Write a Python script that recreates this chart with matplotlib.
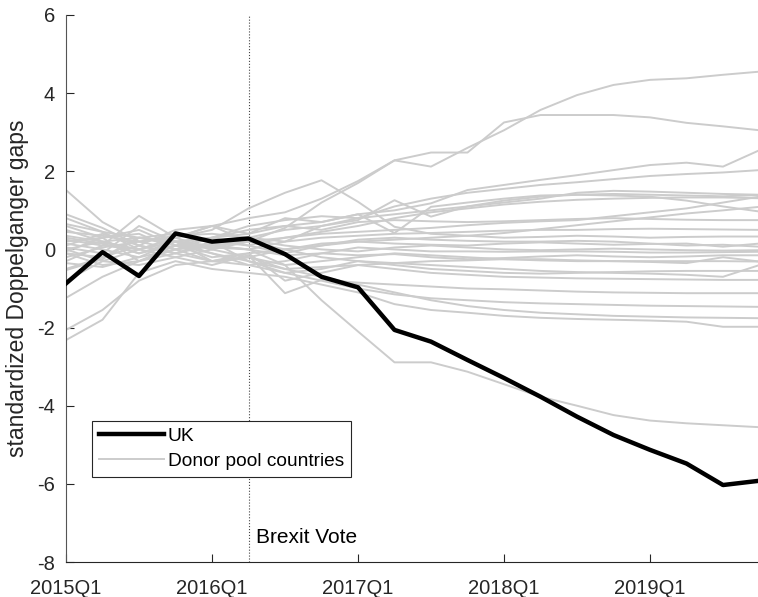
import matplotlib.pyplot as plt
import numpy as np

# quarters 2015Q1 .. 2019Q4
quarters = ['2015Q1', '2015Q2', '2015Q3', '2015Q4', '2016Q1', '2016Q2', '2016Q3', '2016Q4',
            '2017Q1', '2017Q2', '2017Q3', '2017Q4', '2018Q1', '2018Q2', '2018Q3', '2018Q4',
            '2019Q1', '2019Q2', '2019Q3', '2019Q4']
tick_labels = ['2015Q1', '2016Q1', '2017Q1', '2018Q1', '2019Q1']
vote_quarter = '2016Q2'

uk = [-0.87, -0.07, -0.68, 0.41, 0.20, 0.28, -0.12, -0.70, -0.97, -2.06,
      -2.36, -2.83, -3.29, -3.77, -4.28, -4.75, -5.13, -5.48, -6.03, -5.92]

# donor pool gaps
donors = [
    [0.30, 0.15, -0.10, 0.20, 0.10, 0.20, 0.55, 1.20, 1.70, 2.28, 2.12, 2.60, 3.05, 3.57, 3.95, 4.21, 4.34, 4.38, 4.47, 4.55],
    [0.90, 0.55, 0.10, 0.50, 0.60, 0.80, 0.95, 1.30, 1.75, 2.28, 2.48, 2.48, 3.25, 3.44, 3.44, 3.44, 3.38, 3.24, 3.15, 3.05],
    [0.20, 0.30, 0.40, 0.00, 0.30, 0.50, 0.60, 0.70, 0.90, 1.00, 1.18, 1.52, 1.65, 1.78, 1.90, 2.03, 2.16, 2.22, 2.12, 2.54],
    [0.45, 0.35, 0.20, 0.35, 0.40, 0.30, 0.50, 0.60, 0.80, 1.10, 1.30, 1.45, 1.55, 1.65, 1.72, 1.80, 1.88, 1.93, 1.97, 2.03],
    [1.52, 0.70, 0.20, 0.30, 0.50, 1.05, 1.45, 1.77, 1.22, 0.58, 0.40, 0.35, 0.30, 0.32, 0.35, 0.33, 0.30, 0.32, 0.33, 0.33],
    [-0.30, 0.10, 0.86, 0.30, 0.00, 0.30, 0.20, 0.60, 0.75, 1.26, 0.84, 1.10, 1.25, 1.35, 1.40, 1.42, 1.40, 1.38, 1.36, 1.39],
    [0.10, 0.40, 0.10, -0.10, 0.20, 0.10, 0.30, 0.45, 0.60, 0.80, 0.95, 1.05, 1.15, 1.22, 1.27, 1.30, 1.32, 1.33, 1.33, 1.31],
    [-0.10, -0.20, 0.30, 0.10, -0.20, -0.10, 0.00, 0.15, 0.20, 0.25, 0.30, 0.35, 0.42, 0.52, 0.62, 0.72, 0.82, 0.92, 1.00, 1.09],
    [0.60, 0.30, -0.30, 0.10, 0.30, 0.60, 0.75, 0.85, 0.80, 0.90, 1.00, 1.10, 1.20, 1.30, 1.45, 1.50, 1.48, 1.45, 1.42, 1.40],
    [0.00, 0.20, 0.00, 0.30, 0.60, 0.40, 0.80, 0.70, 0.90, 0.42, 1.09, 1.20, 1.30, 1.38, 1.40, 1.38, 1.35, 1.25, 1.10, 0.97],
    [-0.50, -0.20, 0.10, -0.10, 0.10, 0.00, 0.20, 0.30, 0.35, 0.40, 0.42, 0.45, 0.48, 0.50, 0.50, 0.52, 0.53, 0.52, 0.51, 0.50],
    [0.25, 0.10, 0.00, 0.20, 0.00, -0.20, 0.00, 0.10, 0.25, 0.30, 0.25, 0.22, 0.20, 0.20, 0.22, 0.20, 0.15, 0.10, 0.12, 0.07],
    [-0.20, 0.05, 0.20, 0.00, 0.15, 0.25, 0.10, 0.00, -0.05, 0.05, 0.10, 0.05, 0.00, -0.02, 0.00, 0.02, 0.00, -0.02, -0.03, -0.02],
    [0.35, 0.20, -0.10, 0.10, 0.05, 0.00, -0.15, -0.10, 0.05, 0.00, -0.05, -0.05, -0.06, -0.05, -0.05, -0.06, -0.08, -0.08, -0.07, -0.06],
    [-0.35, -0.45, -0.20, 0.00, -0.30, -0.20, -0.40, -0.30, -0.20, -0.10, -0.15, -0.20, -0.25, -0.28, -0.30, -0.30, -0.32, -0.35, -0.20, -0.31],
    [0.00, -0.30, -0.40, -0.20, 0.00, 0.20, 0.00, -0.20, -0.30, -0.35, -0.40, -0.45, -0.50, -0.55, -0.58, -0.60, -0.62, -0.65, -0.70, -0.40],
    [-0.53, -0.25, 0.30, 0.20, -0.10, -0.30, -0.50, -0.45, -0.40, -0.50, -0.60, -0.65, -0.70, -0.72, -0.74, -0.75, -0.76, -0.77, -0.78, -0.78],
    [0.65, 0.45, 0.00, -0.20, -0.40, -0.15, -1.12, -0.78, -0.85, -0.90, -0.95, -1.00, -1.02, -1.05, -1.08, -1.10, -1.11, -1.12, -1.12, -1.12],
    [-1.24, -0.70, -0.30, -0.10, -0.30, -0.40, -0.60, -0.80, -1.00, -1.15, -1.25, -1.30, -1.35, -1.38, -1.40, -1.42, -1.44, -1.45, -1.46, -1.47],
    [-2.06, -1.55, -0.80, -0.40, -0.30, -0.20, -0.50, -0.70, -0.90, -1.10, -1.30, -1.45, -1.55, -1.62, -1.66, -1.70, -1.72, -1.74, -1.75, -1.76],
    [-2.32, -1.80, -0.60, -0.30, -0.50, -0.60, -0.70, -0.90, -1.10, -1.40, -1.55, -1.62, -1.70, -1.75, -1.78, -1.80, -1.82, -1.85, -1.98, -1.98],
    [-0.10, -0.40, -0.30, 0.00, 0.10, 0.00, -0.40, -1.30, -2.10, -2.89, -2.89, -3.13, -3.45, -3.77, -4.00, -4.24, -4.38, -4.45, -4.50, -4.55],
    [0.80, 0.45, 0.30, 0.20, 0.30, 0.40, 0.60, 0.50, 0.70, 0.75, 0.72, 0.70, 0.72, 0.75, 0.78, 0.80, 0.78, 0.76, 0.75, 0.75],
    [0.15, 0.00, -0.20, 0.20, 0.30, 0.10, -0.10, 0.10, 0.20, 0.15, 0.12, 0.10, 0.15, 0.18, 0.15, 0.12, 0.14, 0.15, 0.07, 0.15],
    [-0.05, 0.30, 0.50, 0.10, -0.10, -0.40, -0.30, -0.10, -0.15, -0.12, -0.20, -0.25, -0.22, -0.18, -0.15, -0.18, -0.20, -0.18, -0.15, -0.15],
    [0.50, 0.20, 0.30, 0.40, 0.20, -0.30, -0.60, -0.50, -0.30, -0.40, -0.50, -0.55, -0.60, -0.62, -0.60, -0.58, -0.56, -0.55, -0.55, -0.55],
    [-0.80, -0.30, 0.00, 0.30, 0.60, 0.20, 0.30, 0.40, 0.45, 0.50, 0.55, 0.62, 0.68, 0.72, 0.75, 0.85, 0.95, 1.05, 1.20, 1.35],
    [0.05, -0.10, 0.60, 0.20, -0.30, -0.10, -0.80, -0.60, -0.40, -0.35, -0.30, -0.28, -0.25, -0.25, -0.28, -0.30, -0.30, -0.30, -0.30, -0.31],
]

x = np.arange(len(quarters))
plt.rcParams['font.family'] = ['Liberation Sans', 'DejaVu Sans']
plt.rcParams['axes.unicode_minus'] = False
dark = '#262626'

fig = plt.figure(figsize=(7.58, 5.97), dpi=100)
ax = fig.add_axes([66 / 758, 35 / 597, 693.5 / 758, 547 / 597])

for i, d in enumerate(donors):
    ax.plot(x, d, color='#cccccc', lw=1.4, label='Donor pool countries' if i == 0 else None)
ax.plot(x, uk, color='black', lw=3.2, label='UK', zorder=5)

xv = quarters.index(vote_quarter)
ax.axvline(xv, color='#444444', lw=0.8, ls=':', zorder=1)
ax.text(xv + 0.2, -7.38, 'Brexit Vote', va='center', ha='left', fontsize=15, color='black')

ax.set_xlim(0, len(quarters) - 1)
ax.set_ylim(-8, 6)
ax.set_xticks([quarters.index(t) for t in tick_labels])
ax.set_xticklabels(tick_labels)
ax.set_yticks(np.arange(-8, 7, 2))
ax.set_ylabel('standardized Doppelganger gaps', color=dark, fontsize=16.5, labelpad=6)

for s in ['top', 'right']:
    ax.spines[s].set_visible(False)
ax.spines['bottom'].set_color(dark)
ax.spines['left'].set_color('#555555')
for s in ['left', 'bottom']:
    ax.spines[s].set_linewidth(0.8)
ax.tick_params(direction='in', length=6, width=0.8, colors=dark, labelcolor=dark, labelsize=14.5)
ax.tick_params(axis='x', pad=12)
ax.tick_params(axis='y', pad=7.8)

h, l = ax.get_legend_handles_labels()
leg = ax.legend([h[-1], h[0]], [l[-1], l[0]], loc='lower left', bbox_to_anchor=(0.0375, 0.156),
                borderaxespad=0, fancybox=False, edgecolor=dark, framealpha=1,
                handlelength=3.4, handletextpad=0.2, labelspacing=0.4, borderpad=0.35, fontsize=13.8)
leg.get_frame().set_linewidth(0.8)

plt.savefig('out.png', dpi=100)
